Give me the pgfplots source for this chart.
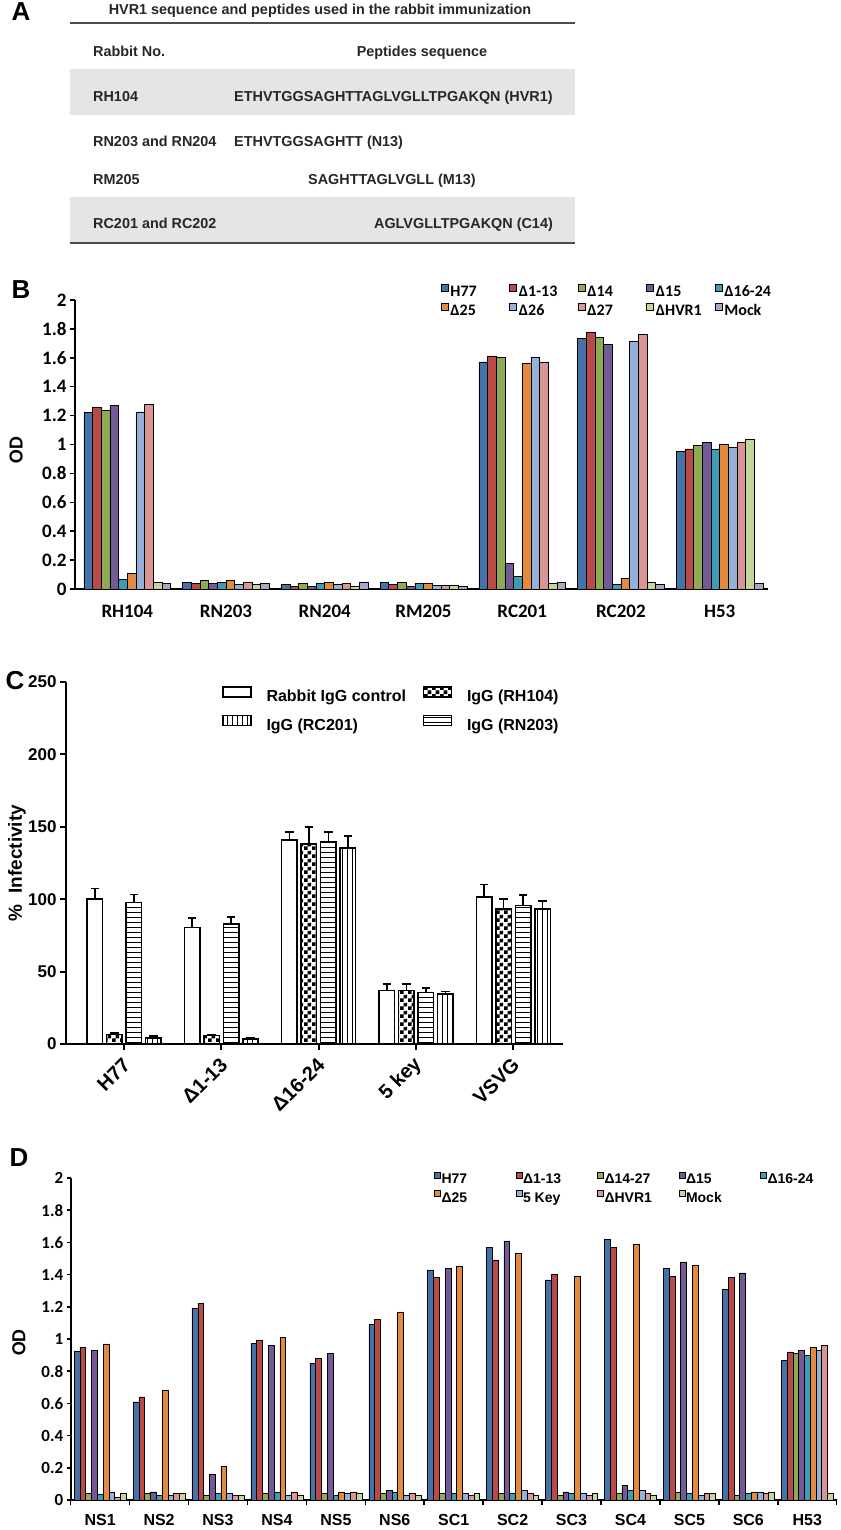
\documentclass[border=0pt]{standalone}
\usepackage{pgfplots}
\pgfplotsset{compat=1.18}
\usepackage{pgfplotstable}
\usetikzlibrary{patterns}
\usepackage{fontspec}
\setmainfont{Liberation Sans}
\newfontfamily\carl{Carlito}
\newcommand\fs[1]{\fontsize{#1}{#1}\selectfont}

\definecolor{cH}{HTML}{4672AA}
\definecolor{cR}{HTML}{B94A48}
\definecolor{cG}{HTML}{8DAB52}
\definecolor{cP}{HTML}{735A97}
\definecolor{cT}{HTML}{3F9CB6}
\definecolor{cO}{HTML}{E48A3C}
\definecolor{cLB}{HTML}{95B1DA}
\definecolor{cPk}{HTML}{D99694}
\definecolor{cLG}{HTML}{C3D69B}
\definecolor{cLP}{HTML}{B3A2C7}

\pgfdeclarepatternformonly{checker}{\pgfpointorigin}{\pgfqpoint{8pt}{8pt}}{\pgfqpoint{8pt}{8pt}}{%
  \pgfpathrectangle{\pgfpointorigin}{\pgfqpoint{4pt}{4pt}}%
  \pgfpathrectangle{\pgfqpoint{4pt}{4pt}}{\pgfqpoint{4pt}{4pt}}%
  \pgfusepath{fill}}
\pgfdeclarepatternformonly{hlines}{\pgfqpoint{-1pt}{-1pt}}{\pgfqpoint{6pt}{6pt}}{\pgfqpoint{5pt}{5pt}}{%
  \pgfsetlinewidth{1pt}%
  \pgfpathmoveto{\pgfqpoint{-1pt}{2.5pt}}\pgfpathlineto{\pgfqpoint{6pt}{2.5pt}}\pgfusepath{stroke}}
\pgfdeclarepatternformonly{vlines}{\pgfqpoint{-1pt}{-1pt}}{\pgfqpoint{6pt}{6pt}}{\pgfqpoint{5pt}{5pt}}{%
  \pgfsetlinewidth{1pt}%
  \pgfpathmoveto{\pgfqpoint{2.5pt}{-1pt}}\pgfpathlineto{\pgfqpoint{2.5pt}{6pt}}\pgfusepath{stroke}}

% Panel B data
\pgfplotstableread{
x H77 d113 d14 d15 d1624 d25 d26 d27 dHVR1 Mock
0 1.221 1.257 1.237 1.268 0.067 0.107 1.226 1.278 0.043 0.038
1 0.045 0.038 0.057 0.038 0.045 0.057 0.029 0.043 0.029 0.040
2 0.029 0.019 0.038 0.019 0.038 0.043 0.029 0.038 0.019 0.043
3 0.043 0.029 0.043 0.019 0.038 0.038 0.024 0.024 0.024 0.017
4 1.572 1.613 1.601 0.179 0.088 1.563 1.601 1.572 0.040 0.048
5 1.732 1.775 1.744 1.692 0.029 0.076 1.713 1.763 0.045 0.029
6 0.953 0.970 0.992 1.013 0.970 1.001 0.980 1.013 1.035 0.040
}\tableB

% Panel C data
\pgfplotstableread{
x ctrl ctrlE rh rhE rn rnE rc rcE
0 100.3 7.0 6.5 1.0 97.7 5.5 4.0 1.5
1 80.4 6.5 5.7 0.8 82.8 4.8 3.5 0.8
2 141.0 5.4 138.0 12.0 139.7 6.7 135.3 8.5
3 37.1 4.4 37.0 4.6 35.7 2.8 34.4 2.0
4 101.4 8.8 93.2 6.9 95.5 7.4 93.2 5.7
}\tableC

% Panel D data
\pgfplotstableread{
x H77 d113 d1427 d15 d1624 d25 key5 dHVR1 Mock
0 0.922 0.950 0.040 0.931 0.033 0.970 0.050 0.019 0.040
1 0.610 0.641 0.040 0.050 0.030 0.682 0.030 0.040 0.040
2 1.190 1.219 0.030 0.160 0.040 0.209 0.040 0.030 0.030
3 0.971 0.990 0.040 0.960 0.050 1.011 0.030 0.050 0.030
4 0.850 0.879 0.040 0.910 0.030 0.050 0.040 0.050 0.040
5 1.089 1.120 0.040 0.060 0.050 1.169 0.030 0.040 0.030
6 1.430 1.381 0.040 1.438 0.040 1.451 0.040 0.030 0.040
7 1.568 1.492 0.040 1.609 0.040 1.533 0.060 0.040 0.030
8 1.368 1.401 0.030 0.050 0.040 1.389 0.040 0.030 0.040
9 1.619 1.568 0.040 0.092 0.060 1.588 0.060 0.040 0.030
10 1.438 1.389 0.050 1.479 0.040 1.459 0.030 0.040 0.040
11 1.309 1.381 0.030 1.410 0.040 0.050 0.050 0.040 0.050
12 0.867 0.920 0.910 0.929 0.902 0.951 0.929 0.960 0.040
}\tableD

\begin{document}
\begin{tikzpicture}
\useasboundingbox (0pt,0pt) rectangle (840pt,1530pt);

% ---------------- Panel A (table) ----------------
\node[font=\bfseries\fs{26}] at (21pt,1518pt) {A};
\fill[black!10] (70pt,1461pt) rectangle (575pt,1415pt);
\fill[black!10] (70pt,1333pt) rectangle (575pt,1288pt);
\draw[line width=2pt, black!70] (70pt,1507pt) -- (575pt,1507pt);
\draw[line width=2pt, black!70] (70pt,1287pt) -- (575pt,1287pt);
\begin{scope}[every node/.style={font=\bfseries\fs{14.4}, text=black!85, inner sep=0pt}]
\node[anchor=base] at (320pt,1515pt) {HVR1 sequence and peptides used in the rabbit immunization};
\node[anchor=base west] at (93pt,1473pt) {Rabbit No.};
\node[anchor=base] at (422pt,1473pt) {Peptides sequence};
\node[anchor=base west] at (93pt,1428pt) {RH104};
\node[anchor=base west] at (234pt,1428pt) {ETHVTGGSAGHTTAGLVGLLTPGAKQN (HVR1)};
\node[anchor=base west] at (93pt,1383pt) {RN203 and RN204};
\node[anchor=base west] at (234pt,1383pt) {ETHVTGGSAGHTT (N13)};
\node[anchor=base west] at (93pt,1345pt) {RM205};
\node[anchor=base west] at (308pt,1345pt) {SAGHTTAGLVGLL (M13)};
\node[anchor=base west] at (93pt,1301pt) {RC201 and RC202};
\node[anchor=base east] at (553pt,1301pt) {AGLVGLLTPGAKQN (C14)};
\end{scope}

% ---------------- Panel B ----------------
\node[font=\bfseries\fs{26}] at (21pt,1240pt) {B};
\begin{axis}[
  at={(75pt,941pt)}, anchor=south west, scale only axis,
  width=693pt, height=289pt,
  xmin=-0.53, xmax=6.49, ymin=0, ymax=2,
  axis lines=left, axis line style={-, line width=2pt},
  ybar=0pt, bar width=8.67pt,
  xtick={0,...,6}, xticklabels={RH104,RN203,RN204,RM205,RC201,RC202,H53},
  major x tick style={draw=none},
  ytick={0,0.2,0.4,0.6,0.8,1,1.2,1.4,1.6,1.8,2},
  tick align=outside, major tick length=5pt,
  y tick style={line width=1.5pt, black},
  /pgf/number format/assume math mode=true,
  yticklabel style={font=\carl\bfseries\fs{19}},
  xticklabel style={font=\carl\bfseries\fs{19}, anchor=base, yshift=-24pt},
  ylabel={OD}, ylabel style={font=\carl\bfseries\fs{20}, at={(axis description cs:-0.085,0.48)}, anchor=center},
  every axis plot/.append style={draw=black, line width=0.6pt},
  legend columns=5, legend cell align=left,
  legend style={at={(axis description cs:0.528,1.0554)}, anchor=north west, draw=none, fill=none,
    inner sep=0pt, outer sep=0pt, font=\carl\bfseries\fs{16}, row sep=2pt,
    nodes={inner xsep=0pt, inner ysep=0pt, text height=12pt, text depth=4pt}},
  legend image code/.code={\draw[#1, draw=black, line width=0.5pt] (0pt,1.6pt) rectangle (7pt,8.6pt);},
]
\addplot[fill=cH] table[x=x,y=H77]{\tableB}; \addlegendentry{\makebox[61pt][l]{\hspace{2pt}H77}}
\addplot[fill=cR] table[x=x,y=d113]{\tableB}; \addlegendentry{\makebox[61pt][l]{\hspace{2pt}Δ1-13}}
\addplot[fill=cG] table[x=x,y=d14]{\tableB}; \addlegendentry{\makebox[61pt][l]{\hspace{2pt}Δ14}}
\addplot[fill=cP] table[x=x,y=d15]{\tableB}; \addlegendentry{\makebox[61pt][l]{\hspace{2pt}Δ15}}
\addplot[fill=cT] table[x=x,y=d1624]{\tableB}; \addlegendentry{\makebox[61pt][l]{\hspace{2pt}Δ16-24}}
\addplot[fill=cO] table[x=x,y=d25]{\tableB}; \addlegendentry{\makebox[61pt][l]{\hspace{2pt}Δ25}}
\addplot[fill=cLB] table[x=x,y=d26]{\tableB}; \addlegendentry{\makebox[61pt][l]{\hspace{2pt}Δ26}}
\addplot[fill=cPk] table[x=x,y=d27]{\tableB}; \addlegendentry{\makebox[61pt][l]{\hspace{2pt}Δ27}}
\addplot[fill=cLG] table[x=x,y=dHVR1]{\tableB}; \addlegendentry{\makebox[61pt][l]{\hspace{2pt}ΔHVR1}}
\addplot[fill=cLP] table[x=x,y=Mock]{\tableB}; \addlegendentry{\makebox[61pt][l]{\hspace{2pt}Mock}}
\end{axis}

% ---------------- Panel C ----------------
\node[font=\bfseries\fs{26}] at (15pt,849pt) {C};
\begin{axis}[
  at={(66pt,486pt)}, anchor=south west, scale only axis,
  width=497pt, height=362pt,
  xmin=-0.596, xmax=4.51, ymin=0, ymax=250,
  axis lines=left, axis line style={-, line width=2.2pt},
  ybar, bar width=15.5pt,
  xtick={0,...,4}, xticklabels={H77,Δ1-13,Δ16-24,5 key,VSVG},
  ytick={0,50,100,150,200,250},
  tick align=outside, major tick length=6pt,
  tick style={line width=2pt, black},
  /pgf/number format/assume math mode=true,
  yticklabel style={font=\bfseries\fs{17}},
  xticklabel style={xshift=5pt, yshift=-9pt, font=\bfseries\fs{20}, rotate=45, anchor=east},
  ylabel={\%\ \ Infectivity}, ylabel style={font=\bfseries\fs{19}, at={(axis description cs:-0.0986,0.5)}, anchor=center},
  every axis plot/.append style={draw=black, line width=1.5pt},
  error bars/y dir=plus, error bars/y explicit,
  error bars/error bar style={line width=1.5pt, black},
  error bars/error mark options={rotate=90, mark size=4.25pt, line width=1.5pt, black},
  legend columns=2, legend cell align=left,
  legend style={at={(axis description cs:0.3139,0.9878)}, anchor=north west, draw=none, fill=none,
    inner sep=0pt, outer sep=0pt, font=\bfseries\fs{16}, row sep=9pt,
    nodes={inner xsep=0pt, inner ysep=0pt, text height=12pt, text depth=4pt}},
  legend image code/.code={\draw[#1, draw=black, line width=1.5pt] (0pt,0.7pt) rectangle (28pt,10.7pt);},
]
\addplot[fill=white, bar shift=-29.25pt] table[x=x,y=ctrl,y error=ctrlE]{\tableC};
\addlegendentry{\makebox[171pt][l]{\hspace{15pt}Rabbit IgG control}}
\addplot[pattern=checker, bar shift=-9.75pt] table[x=x,y=rh,y error=rhE]{\tableC};
\addlegendentry{\makebox[171pt][l]{\hspace{15pt}IgG (RH104)}}
\addplot[pattern=vlines, bar shift=29.25pt] table[x=x,y=rc,y error=rcE]{\tableC};
\addlegendentry{\makebox[171pt][l]{\hspace{15pt}IgG (RC201)}}
\addplot[pattern=hlines, bar shift=9.75pt] table[x=x,y=rn,y error=rnE]{\tableC};
\addlegendentry{\makebox[171pt][l]{\hspace{15pt}IgG (RN203)}}
\end{axis}

% ---------------- Panel D ----------------
\node[font=\bfseries\fs{26}] at (19pt,372pt) {D};
\begin{axis}[
  at={(70.7pt,30pt)}, anchor=south west, scale only axis,
  width=766pt, height=322pt,
  xmin=-0.5, xmax=12.5, ymin=0, ymax=2,
  axis lines=left, axis line style={-, line width=2pt},
  ybar=0pt, bar width=5.78pt,
  xtick={0,...,12}, xticklabels={NS1,NS2,NS3,NS4,NS5,NS6,SC1,SC2,SC3,SC4,SC5,SC6,H53},
  minor xtick={-0.5,0.5,...,12.5},
  major x tick style={draw=none},
  minor x tick style={line width=1.5pt, black},
  ytick={0,0.2,0.4,0.6,0.8,1,1.2,1.4,1.6,1.8,2},
  tick align=outside, major tick length=4pt, minor tick length=5pt,
  y tick style={line width=1.5pt, black},
  /pgf/number format/assume math mode=true,
  yticklabel style={font=\carl\bfseries\fs{17}},
  xticklabel style={font=\bfseries\fs{16}, anchor=base, yshift=-21pt},
  ylabel={OD}, ylabel style={font=\carl\bfseries\fs{20}, at={(axis description cs:-0.0675,0.489)}, anchor=center},
  every axis plot/.append style={draw=black, line width=0.5pt},
  legend columns=5, legend cell align=left,
  legend style={at={(axis description cs:0.4743,1.0186)}, anchor=north west, draw=none, fill=none,
    inner sep=0pt, outer sep=0pt, font=\bfseries\fs{14}, row sep=3.5pt,
    nodes={inner xsep=0pt, inner ysep=0pt, text height=11pt, text depth=3pt}},
  legend image code/.code={\draw[#1, draw=black, line width=0.5pt] (0pt,1.7pt) rectangle (6pt,7.7pt);},
]
\addplot[fill=cH] table[x=x,y=H77]{\tableD}; \addlegendentry{\makebox[75pt][l]{\hspace{1pt}H77}}
\addplot[fill=cR] table[x=x,y=d113]{\tableD}; \addlegendentry{\makebox[75pt][l]{\hspace{1pt}Δ1-13}}
\addplot[fill=cG] table[x=x,y=d1427]{\tableD}; \addlegendentry{\makebox[75pt][l]{\hspace{1pt}Δ14-27}}
\addplot[fill=cP] table[x=x,y=d15]{\tableD}; \addlegendentry{\makebox[75pt][l]{\hspace{1pt}Δ15}}
\addplot[fill=cT] table[x=x,y=d1624]{\tableD}; \addlegendentry{\makebox[75pt][l]{\hspace{1pt}Δ16-24}}
\addplot[fill=cO] table[x=x,y=d25]{\tableD}; \addlegendentry{\makebox[75pt][l]{\hspace{1pt}Δ25}}
\addplot[fill=cLB] table[x=x,y=key5]{\tableD}; \addlegendentry{\makebox[75pt][l]{\hspace{1pt}5 Key}}
\addplot[fill=cPk] table[x=x,y=dHVR1]{\tableD}; \addlegendentry{\makebox[75pt][l]{\hspace{1pt}ΔHVR1}}
\addplot[fill=cLG] table[x=x,y=Mock]{\tableD}; \addlegendentry{\makebox[75pt][l]{\hspace{1pt}Mock}}
\end{axis}
\end{tikzpicture}
\end{document}
